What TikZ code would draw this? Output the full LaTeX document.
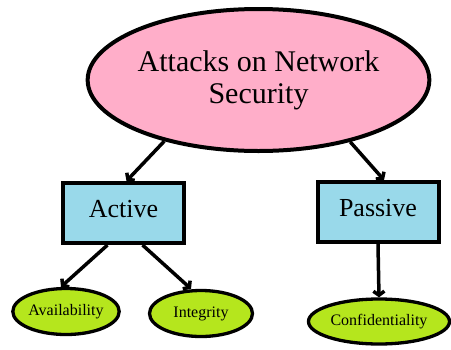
\documentclass[tikz,border=0pt]{standalone}
\usepackage{fontspec}
\setmainfont{Liberation Serif}
\usetikzlibrary{shapes.geometric,arrows.meta}
\definecolor{pinkfill}{RGB}{255,174,201}
\definecolor{bluefill}{RGB}{153,217,234}
\definecolor{limefill}{RGB}{181,230,29}
\tikzset{
  topnode/.style={ellipse,draw=black,line width=4pt,fill=pinkfill,inner sep=0pt,
    minimum width=299pt,minimum height=142pt,align=center,
    font=\fontsize{30}{32}\selectfont},
  typebox/.style={rectangle,draw=black,line width=4pt,fill=bluefill,inner sep=0pt,
    minimum width=121pt,minimum height=60pt,text height=18pt,text depth=10pt,
    font=\fontsize{26}{28}\selectfont},
  leafnode/.style={ellipse,draw=black,line width=3.3pt,fill=limefill,inner sep=0pt,
    font=\fontsize{16}{18}\selectfont},
  conn/.style={line width=3.5pt,-{Straight Barb[length=4pt,width=11pt]}}
}
\begin{document}
\begin{tikzpicture}[x=1pt,y=-1pt]
\useasboundingbox (0,0) rectangle (451,349);
\node[topnode] (top) at (258.5,80) {Attacks on Network\\Security};
\node[typebox] (active) at (123.5,213) {Active};
\node[typebox] (passive) at (378,212) {Passive};
\node[leafnode,minimum width=101pt,minimum height=46pt] (avail) at (66,311.5) {Availability};
\node[leafnode,minimum width=103pt,minimum height=46pt] (integ) at (201,313.5) {Integrity};
\node[leafnode,minimum width=141pt,minimum height=45pt] (conf) at (379,321.5) {Confidentiality};
\draw[conn] (top.213) -- ([xshift=3pt]active.north);
\draw[conn] (top.326) -- ([xshift=6pt]passive.north);
\draw[conn] ([xshift=-16pt]active.south) -- ([xshift=-5pt]avail.north);
\draw[conn] ([xshift=19pt]active.south) -- ([xshift=-10pt]integ.north);
\draw[conn] (passive.south) -- (conf.north);
\end{tikzpicture}
\end{document}
